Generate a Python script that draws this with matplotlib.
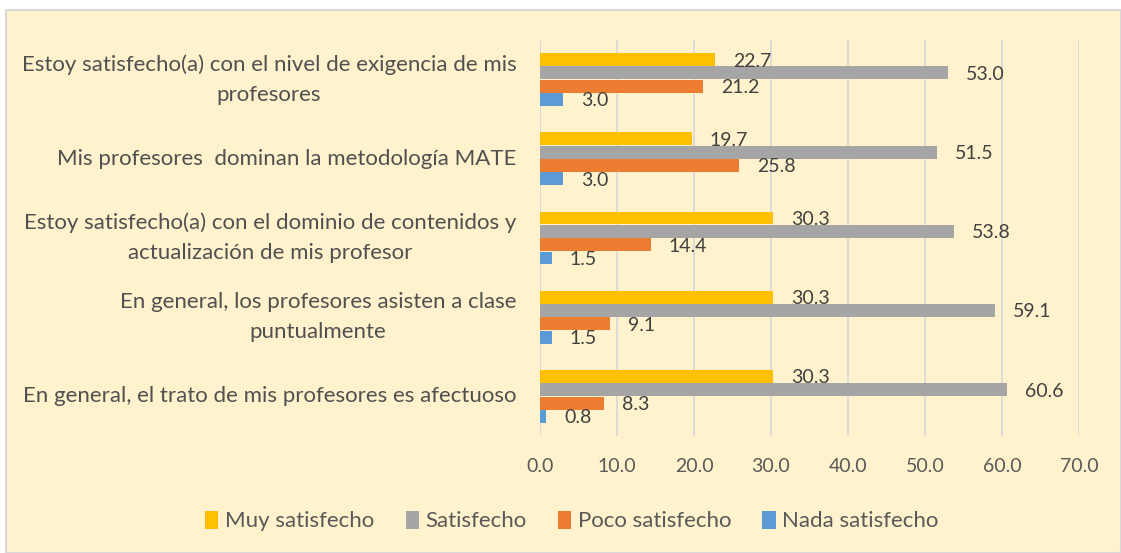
import matplotlib
matplotlib.use("Agg")
import matplotlib.pyplot as plt
import numpy as np
from matplotlib.patches import Rectangle

categories = [
    "Estoy satisfecho(a) con el nivel de exigencia de mis\nprofesores",
    "Mis profesores  dominan la metodología MATE",
    "Estoy satisfecho(a) con el dominio de contenidos y\nactualización de mis profesor",
    "En general, los profesores asisten a clase\npuntualmente",
    "En general, el trato de mis profesores es afectuoso",
]
series_names = ["Muy satisfecho", "Satisfecho", "Poco satisfecho", "Nada satisfecho"]
muy = [22.7, 19.7, 30.3, 30.3, 30.3]
sat = [53.0, 51.5, 53.8, 59.1, 60.6]
poco = [21.2, 25.8, 14.4, 9.1, 8.3]
nada = [3.0, 3.0, 1.5, 1.5, 0.8]
xticks = [0, 10, 20, 30, 40, 50, 60, 70]

colors = ["#FFC000", "#A5A5A5", "#ED7D31", "#5B9BD5"]
plt.rcParams['font.family'] = ['Lato', 'DejaVu Sans']
FS = 14
FS_CAT = 16

fig = plt.figure(figsize=(11.21, 5.53), dpi=100, facecolor="white")
bg = Rectangle((6/1121, 0), 1 - 6/1121, 1 - 10/553, transform=fig.transFigure,
               facecolor="#FFF2CC", edgecolor="#D9D9D9", linewidth=1.5, zorder=-5)
fig.patches.append(bg)

ax = fig.add_axes([540/1121, 1 - 436/553, (1079 - 540)/1121, (436 - 40)/553])
ax.set_facecolor("none")

n = len(categories)
pos = np.arange(n)[::-1].astype(float)
bh = 0.168
data = [muy, sat, poco, nada]
for i, (vals, c, name) in enumerate(zip(data, colors, series_names)):
    y = pos + (1.5 - i) * bh
    ax.barh(y, vals, height=bh * 0.97, color=c, label=name, zorder=3)
    for yy, v in zip(y, vals):
        ax.annotate(f"{v:.1f}", (v, yy), xytext=(13, -1), textcoords="offset points",
                    va="center", ha="left", fontsize=FS, color="#404040", zorder=4)

ax.set_xlim(0, 70)
ax.set_ylim(-0.5, n - 0.5)
ax.set_xticks(xticks)
ax.set_xticklabels([f"{t:.1f}" for t in xticks], fontsize=FS, color="#595959")
ax.set_yticks(pos)
ax.set_yticklabels(categories, fontsize=FS_CAT, color="#505050",
                   multialignment="center", linespacing=1.6)
for t in ax.get_yticklabels():
    t.set_va("center")
ax.tick_params(axis="both", length=0)
ax.tick_params(axis="y", pad=17)
ax.tick_params(axis="x", pad=16)
ax.grid(axis="x", color="#D9D9D9", linewidth=1.3, zorder=0)
for s in ax.spines.values():
    s.set_visible(False)

handles, labels = ax.get_legend_handles_labels()
fig.legend(handles, labels, loc="center", bbox_to_anchor=(572/1121, 1 - 521/553), ncol=4,
           frameon=False, fontsize=FS_CAT, handlelength=0.6, handleheight=0.9,
           handletextpad=0.3, columnspacing=1.4, labelcolor="#595959")

fig.savefig("out.png", dpi=100, facecolor="white")
